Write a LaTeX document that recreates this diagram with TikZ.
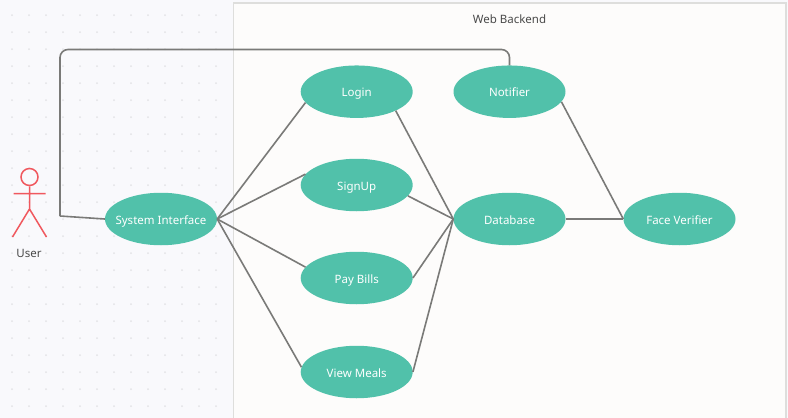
\documentclass[tikz,border=0pt]{standalone}
\usepackage{fontspec}
\setmainfont{Noto Sans}
\usetikzlibrary{shapes.geometric}
\definecolor{bgc}{HTML}{F9F9FC}
\definecolor{boxc}{HTML}{FDFCFB}
\definecolor{boxb}{HTML}{DEDEDC}
\definecolor{dotc}{HTML}{E3E3E6}
\definecolor{teal}{HTML}{51C1AA}
\definecolor{linec}{HTML}{7A7A78}
\definecolor{actor}{HTML}{F0585E}
\definecolor{txt}{HTML}{4A4A4A}
\newcommand{\uctext}[1]{\makebox[0pt]{\smash{\raisebox{-5pt}{#1}}}}
\tikzset{
  usecase/.style={ellipse,fill=teal,draw=none,minimum width=112pt,minimum height=52.5pt,inner sep=0pt,text=white,font=\fontsize{11.5}{14}\selectfont},
  conn/.style={draw=linec,line width=1.6pt},
  actorline/.style={draw=actor,line width=1.5pt},
  label/.style={text=txt,font=\fontsize{11.5}{14}\selectfont,inner sep=0pt}
}
\begin{document}
\begin{tikzpicture}[x=1pt,y=-1pt]
\useasboundingbox (0,0) rectangle (788,418);
\fill[bgc] (0,0) rectangle (788,418);
\foreach \i in {0,...,12}{\foreach \j in {0,...,23}{
  \fill[dotc] ({12+17*\i},{15+17*\j}) circle (1pt);
}}
\fill[boxc] (233.5,3) rectangle (786,418);
\draw[boxb,line width=1.7pt] (233.5,419) -- (233.5,3) -- (786,3) -- (786,419);
\node[label] (title) at (509.5,19.5) {Web Backend};
\node[usecase] (si) at (161,219) {\uctext{System Interface}};
\node[usecase] (login) at (356.7,91.7) {\uctext{Login}};
\node[usecase] (signup) at (356.7,185) {\uctext{SignUp}};
\node[usecase] (pay) at (356.7,278) {\uctext{Pay Bills}};
\node[usecase] (meals) at (356.7,372) {\uctext{View Meals}};
\node[usecase] (notifier) at (509.5,91.7) {\uctext{Notifier}};
\node[usecase] (db) at (509.5,219) {\uctext{Database}};
\node[usecase] (face) at (679.5,219) {\uctext{Face Verifier}};
\node[circle,actorline,minimum size=17pt,inner sep=0pt] (head) at (29.5,177) {};
\coordinate (hip) at (29.5,209);
\coordinate (armL) at (13.5,193.5);
\coordinate (armR) at (45.5,193.5);
\coordinate (legL) at (12.5,237);
\coordinate (legR) at (46.5,237);
\draw[actorline] (head.south) -- (hip) (armL) -- (armR) (legL) -- (hip) -- (legR);
\node[label] (user) at (29,253) {User};
\coordinate (free) at (60,216);
\coordinate (c1) at (60,49.5);
\coordinate (c2) at (509.5,49.5);
\draw[conn] (si.west) -- (free);
\draw[conn,rounded corners=8pt] (free) -- (c1) -- (c2) -- (notifier.north);
\draw[conn] (si.east) -- (login.192);
\draw[conn] (si.east) -- (signup.168);
\draw[conn] (si.east) -- (pay.168);
\draw[conn] (si.east) -- (meals.175);
\draw[conn] (login.-26) -- (db.west);
\draw[conn] (signup.-12) -- (db.west);
\draw[conn] (pay.east) -- (db.west);
\draw[conn] (meals.east) -- (db.west);
\draw[conn] (notifier.-11) -- (face.west);
\draw[conn] (db.east) -- (face.west);
\end{tikzpicture}
\end{document}
